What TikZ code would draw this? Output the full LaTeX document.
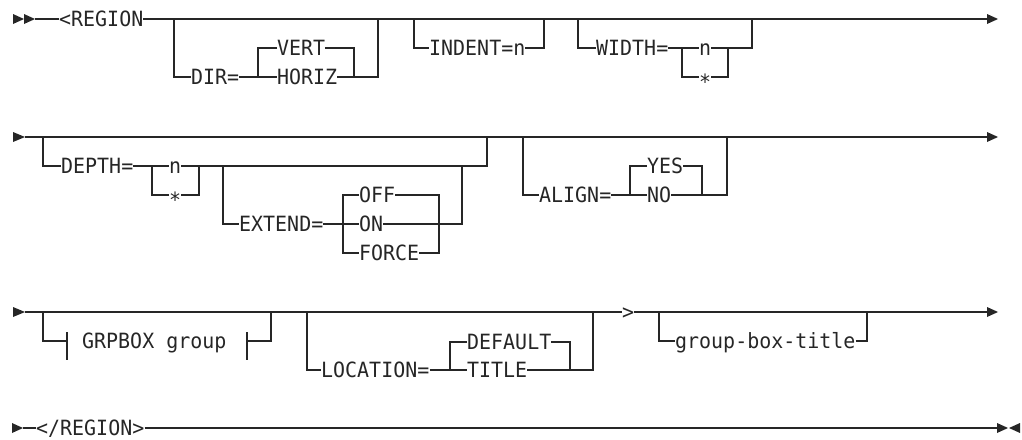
\documentclass[tikz,border=0pt]{standalone}
\usepackage{fontspec}
\newfontfamily\railfont[FakeStretch=0.95]{DejaVu Sans Mono}
\begin{document}
\begin{tikzpicture}[x=1pt,y=-1pt,
  rail/.style={line width=1.4pt,draw=black!85},
  tipmark/.style={fill=black!85,draw=none},
  lbl/.style={inner sep=0pt,anchor=west,text height=15.3pt,text depth=0pt,text=black!85,
    font=\railfont\fontsize{21}{22}\selectfont}]
\useasboundingbox (0,0) rectangle (1022,439);

%%%%%%%%%%%%%%%% Row 1
\fill[tipmark] (13,14) -- (24,19) -- (13,24) -- cycle;
\fill[tipmark] (24,14) -- (35,19) -- (24,24) -- cycle;
\coordinate (s1) at (35,19);
\coordinate (e1) at (987,19);
\node[lbl] (reg) at (59,19) {<REGION};
\draw[rail] (s1) -- (reg.west);
\draw[rail] (reg.east) -- (e1);
\fill[tipmark] (987,14) -- (998,19) -- (987,24) -- cycle;

% DIR
\coordinate (dirA) at (174,19);
\coordinate (dirB) at (378,19);
\coordinate (dirBb) at (378,77);
\coordinate (dirL) at (258,77);
\coordinate (dirR) at (354,77);
\node[lbl] (dir) at (191,77) {DIR=};
\node[lbl] (vert) at (277,48) {VERT};
\node[lbl] (horiz) at (277,77) {HORIZ};
\draw[rail] (dirA) |- (dir.west);
\draw[rail] (dir.east) -- (horiz.west);
\draw[rail] (vert.west) -| (dirL);
\draw[rail] (vert.east) -| (dirR);
\draw[rail] (horiz.east) -- (dirBb) -- (dirB);

% INDENT
\coordinate (indA) at (414,19);
\coordinate (indB) at (544,19);
\node[lbl] (ind) at (429,48) {INDENT=n};
\draw[rail] (indA) |- (ind.west);
\draw[rail] (ind.east) -| (indB);

% WIDTH
\coordinate (widA) at (578,19);
\coordinate (widB) at (752,19);
\coordinate (widBb) at (752,48);
\coordinate (widL) at (682,77);
\coordinate (widR) at (728,48);
\node[lbl] (wid) at (596,48) {WIDTH=};
\node[lbl] (wn) at (699,48) {n};
\node[lbl] (ws) at (699,77) {\raisebox{-4.8pt}{*}};
\draw[rail] (widA) |- (wid.west);
\draw[rail] (wid.east) -- (wn.west);
\draw[rail] (wn.east) -- (widBb) -- (widB);
\draw[rail] (ws.west) -| (widL |- wn.west);
\draw[rail] (ws.east) -| (widR);

%%%%%%%%%%%%%%%% Row 2
\fill[tipmark] (13,132) -- (25,137) -- (13,142) -- cycle;
\coordinate (s2) at (25,137);
\coordinate (e2) at (987,137);
\draw[rail] (s2) -- (e2);
\fill[tipmark] (987,132) -- (998,137) -- (987,142) -- cycle;

% DEPTH
\coordinate (depA) at (43,137);
\coordinate (depB) at (487,137);
\coordinate (depBb) at (487,166);
\coordinate (depL) at (152,195);
\coordinate (depR) at (199,166);
\node[lbl] (dep) at (61,166) {DEPTH=};
\node[lbl] (dn) at (169,166) {n};
\node[lbl] (ds) at (169,195) {\raisebox{-4.8pt}{*}};
\draw[rail] (depA) |- (dep.west);
\draw[rail] (dep.east) -- (dn.west);
\draw[rail] (dn.east) -- (depBb) -- (depB);
\draw[rail] (ds.west) -- (depL) -- (depL |- dn.west);
\draw[rail] (ds.east) -| (depR);

% EXTEND
\coordinate (extA) at (223,166);
\coordinate (extB) at (462,166);
\coordinate (extBb) at (462,224);
\coordinate (extL) at (343,253);
\coordinate (extR) at (439,253);
\node[lbl] (ext) at (239,224) {EXTEND=};
\node[lbl] (off) at (359,195) {OFF};
\node[lbl] (on) at (359,224) {ON};
\node[lbl] (force) at (359,253) {FORCE};
\draw[rail] (extA) |- (ext.west);
\draw[rail] (ext.east) -- (on.west);
\draw[rail] (off.west) -| (extL) -- (force.west);
\draw[rail] (off.east) -| (extR) -- (force.east);
\draw[rail] (on.east) -- (extBb) -- (extB);

% ALIGN
\coordinate (alA) at (523,137);
\coordinate (alB) at (727,137);
\coordinate (alBb) at (727,195);
\coordinate (alL) at (630,195);
\coordinate (alR) at (702,195);
\node[lbl] (al) at (539,195) {ALIGN=};
\node[lbl] (yes) at (647,166) {YES};
\node[lbl] (no) at (647,195) {NO};
\draw[rail] (alA) |- (al.west);
\draw[rail] (al.east) -- (no.west);
\draw[rail] (yes.west) -| (alL);
\draw[rail] (yes.east) -| (alR);
\draw[rail] (no.east) -- (alBb) -- (alB);

%%%%%%%%%%%%%%%% Row 3
\fill[tipmark] (13,307) -- (25,312) -- (13,317) -- cycle;
\coordinate (s3) at (25,312);
\coordinate (e3) at (987,312);
\node[lbl] (gt) at (622,312) {>};
\draw[rail] (s3) -- (gt.west);
\draw[rail] (gt.east) -- (e3);
\fill[tipmark] (987,307) -- (998,312) -- (987,317) -- cycle;

% GRPBOX fragment
\coordinate (gbA) at (43,312);
\coordinate (gbC) at (67,341);
\coordinate (gbL1) at (67,332);
\coordinate (gbL2) at (67,360);
\coordinate (gbR1) at (247,332);
\coordinate (gbR2) at (247,360);
\coordinate (gbD) at (247,341);
\coordinate (gbBb) at (271,341);
\coordinate (gbB) at (271,312);
\node[lbl] (grp) at (82,341) {GRPBOX group};
\draw[rail] (gbA) |- (gbC);
\draw[rail] (gbL1) -- (gbL2);
\draw[rail] (gbR1) -- (gbR2);
\draw[rail] (gbD) -- (gbBb) -- (gbB);

% LOCATION
\coordinate (loA) at (307,312);
\coordinate (loB) at (593,312);
\coordinate (loBb) at (593,370);
\coordinate (loL) at (450,370);
\coordinate (loR) at (570,370);
\node[lbl] (loc) at (321,370) {LOCATION=};
\node[lbl] (def) at (467,342) {DEFAULT};
\node[lbl] (tit) at (467,370) {TITLE};
\draw[rail] (loA) |- (loc.west);
\draw[rail] (loc.east) -- (tit.west);
\draw[rail] (def.west) -| (loL);
\draw[rail] (def.east) -| (loR);
\draw[rail] (tit.east) -- (loBb) -- (loB);

% group-box-title
\coordinate (gtA) at (659,312);
\coordinate (gtB) at (867,312);
\node[lbl] (gbt) at (675,341) {group-box-title};
\draw[rail] (gtA) |- (gbt.west);
\draw[rail] (gbt.east) -| (gtB);

%%%%%%%%%%%%%%%% Row 4
\fill[tipmark] (12,423) -- (23,428) -- (12,433) -- cycle;
\coordinate (s4) at (23,428);
\coordinate (e4) at (997,428);
\node[lbl] (endreg) at (36,428) {</REGION>};
\draw[rail] (s4) -- (endreg.west);
\draw[rail] (endreg.east) -- (e4);
\fill[tipmark] (997,423) -- (1008,428) -- (997,433) -- cycle;
\fill[tipmark] (1020,423) -- (1009,428) -- (1020,433) -- cycle;
\end{tikzpicture}
\end{document}
